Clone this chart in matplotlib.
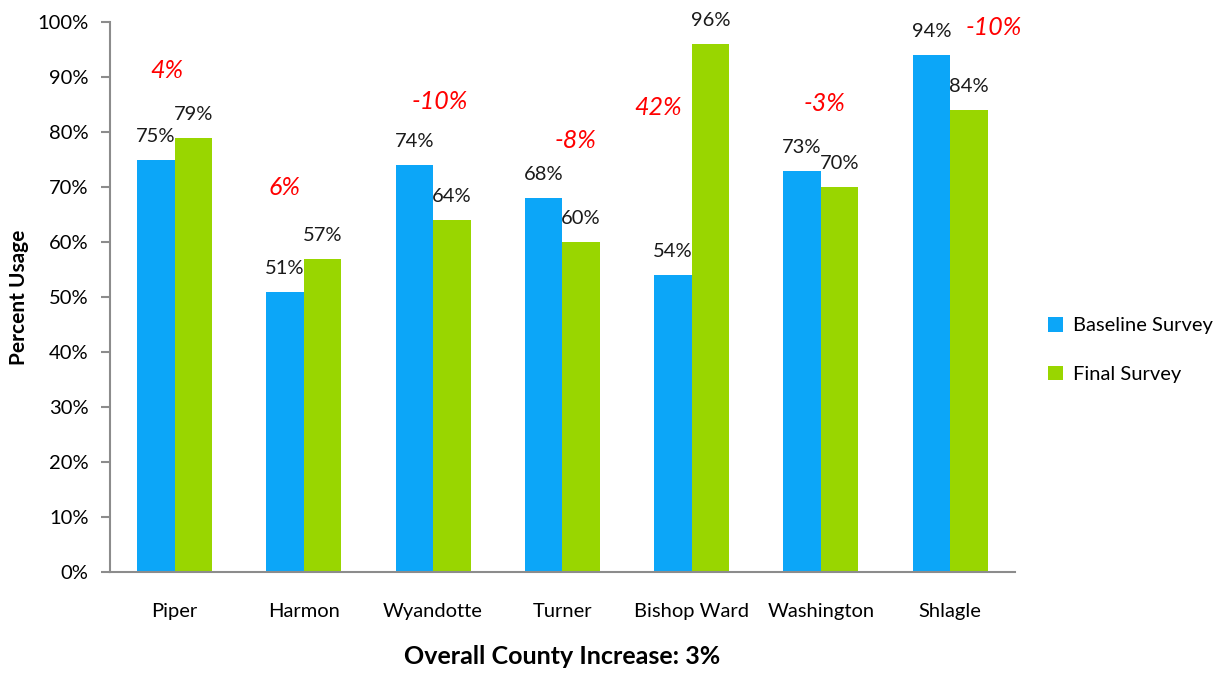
import matplotlib
matplotlib.use("Agg")
import matplotlib.pyplot as plt
import numpy as np

plt.rcParams['font.family'] = ['Lato', 'DejaVu Sans']

# survey results per school
schools = ["Piper", "Harmon", "Wyandotte", "Turner", "Bishop Ward", "Washington", "Shlagle"]
baseline = [75, 51, 74, 68, 54, 73, 94]
final = [79, 57, 64, 60, 96, 70, 84]
change = [4, 6, -10, -8, 42, -3, -10]
overall = 3

# where the red change labels sit (x in category units, y in percent)
change_x = [-0.06, 0.85, 2.05, 3.1, 3.74, 5.03, 6.34]
change_y = [91.3, 70, 85.5, 78.5, 84.5, 85.3, 99]

blue = '#0CA6F8'
green = '#99D600'
axis_gray = '#8C8C8C'

fig = plt.figure(figsize=(12.27, 6.73), dpi=100)
ax = fig.add_axes([0.0896, 0.150, 0.7374, 0.817])

x = np.arange(len(schools))
w = 0.29
b1 = ax.bar(x - w/2, baseline, w, color=blue, label='Baseline Survey')
b2 = ax.bar(x + w/2, final, w, color=green, label='Final Survey')

# value labels above each bar
for bars, vals in ((b1, baseline), (b2, final)):
    for rect, v in zip(bars, vals):
        ax.annotate(f"{v}%", (rect.get_x() + rect.get_width()/2, v),
                    xytext=(0, 13), textcoords='offset points',
                    ha='center', va='baseline', fontsize=14.5, color='#1a1a1a')

# percent change per school in red
for cx, cy, c in zip(change_x, change_y, change):
    ax.text(cx, cy, f"{c}%", ha='center', va='center', color='#FF0000',
            fontsize=18, style='italic')

ax.set_xlim(-0.5, len(schools) - 0.5)
ax.set_ylim(0, 100)
ax.set_yticks(range(0, 101, 10))
ax.set_yticklabels([f"{t}%" for t in range(0, 101, 10)])
ax.set_xticks(x)
ax.set_xticklabels(schools)

for s in ('top', 'right'):
    ax.spines[s].set_visible(False)
for s in ('left', 'bottom'):
    ax.spines[s].set_color(axis_gray)
    ax.spines[s].set_linewidth(1.5)

ax.tick_params(axis='y', direction='out', length=6.5, width=1.5, color=axis_gray,
               pad=9, labelsize=14.5)
ax.tick_params(axis='x', length=0, pad=22, labelsize=14.5)

ax.set_ylabel("Percent Usage", fontsize=15, fontweight='bold', va='center')
ax.yaxis.set_label_coords(-0.1, 0.5)
ax.set_xlabel(f"Overall County Increase: {overall}%", fontsize=18, fontweight='bold',
              labelpad=18)

fig.legend(handles=[b1, b2], loc='center left', bbox_to_anchor=(0.839, 0.48),
           frameon=False, fontsize=14.5, handlelength=0.75, handleheight=0.75,
           handletextpad=0.5, labelspacing=1.55)

fig.savefig("out.png", dpi=100)
